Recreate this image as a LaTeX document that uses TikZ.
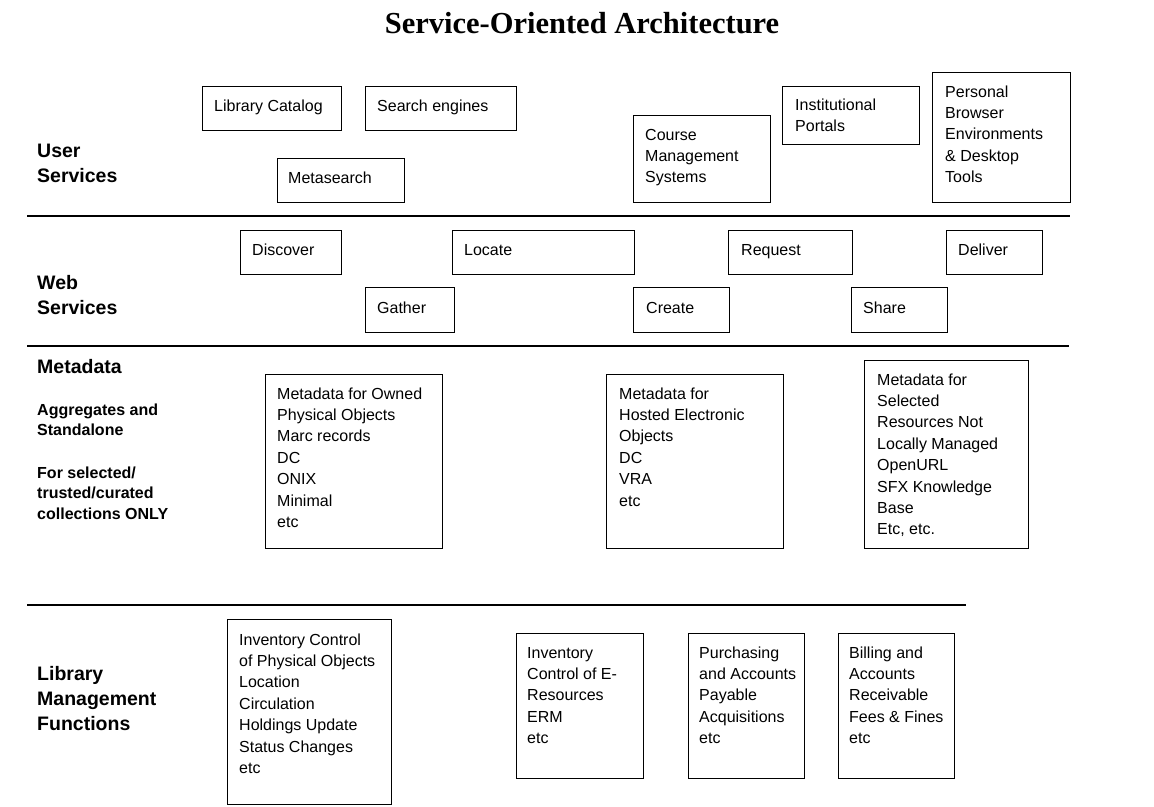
\documentclass[tikz,border=0pt]{standalone}
\usepackage{fontspec}
\setmainfont{Liberation Sans}
\newfontfamily\titlefont{Liberation Serif}
\usetikzlibrary{calc}
\newcommand\ml[1]{\begin{tabular}[t]{@{}l@{}}#1\end{tabular}}
\begin{document}
\begin{tikzpicture}[x=1pt,y=-1pt,
  box/.style={draw,line width=1.3pt,inner sep=0pt,anchor=north west},
  txt/.style={anchor=base west,inner sep=0pt,font=\fontsize{16}{21.4}\selectfont},
  head/.style={anchor=base west,inner sep=0pt,font=\bfseries\fontsize{19.5}{25}\selectfont},
  sub/.style={anchor=base west,inner sep=0pt,font=\bfseries\fontsize{16}{20.5}\selectfont},
  rule/.style={line width=2pt}]
\useasboundingbox (0,0) rectangle (1154,806);

% title
\node[anchor=base,inner sep=0pt,font=\titlefont\bfseries\fontsize{30.5}{36}\selectfont] (title) at (582,33) {Service-Oriented Architecture};

% separator rules
\coordinate (r1a) at (27,216); \coordinate (r1b) at (1070,216);
\coordinate (r2a) at (27,346); \coordinate (r2b) at (1069,346);
\coordinate (r3a) at (27,605); \coordinate (r3b) at (966,605);
\draw[rule] (r1a) -- (r1b);
\draw[rule] (r2a) -- (r2b);
\draw[rule] (r3a) -- (r3b);

% left labels
\node[head] (lus) at (37,157) {\ml{User\\Services}};
\node[head] (lws) at (37,289) {\ml{Web\\Services}};
\node[head] (lmd) at (37,373) {Metadata};
\node[sub] (lagg) at (37,415) {\ml{Aggregates and\\Standalone}};
\node[sub] (lsel) at (37,478) {\ml{For selected/\\trusted/curated\\collections ONLY}};
\node[head] (llm) at (37,680) {\ml{Library\\Management\\Functions}};

% user services
\node[box,minimum width=139pt,minimum height=44pt] (libcat) at (202,86) {};
\node[txt] (libcatT) at ($(libcat.north west)+(12,25)$) {Library Catalog};
\node[box,minimum width=151pt,minimum height=44pt] (search) at (365,86) {};
\node[txt] (searchT) at ($(search.north west)+(12,25)$) {Search engines};
\node[box,minimum width=127pt,minimum height=44pt] (meta) at (277,158) {};
\node[txt] (metaT) at ($(meta.north west)+(11,25)$) {Metasearch};
\node[box,minimum width=137pt,minimum height=87pt] (course) at (633,115) {};
\node[txt] (courseT) at ($(course.north west)+(12,25)$) {\ml{Course\\Management\\Systems}};
\node[box,minimum width=137pt,minimum height=58pt] (inst) at (782,86) {};
\node[txt] (instT) at ($(inst.north west)+(13,24)$) {\ml{Institutional\\Portals}};
\node[box,minimum width=138pt,minimum height=130pt] (pers) at (932,72) {};
\node[txt] (persT) at ($(pers.north west)+(13,25)$) {\ml{Personal\\Browser\\Environments\\\& Desktop\\Tools}};

% web services
\node[box,minimum width=101pt,minimum height=44pt] (disc) at (240,230) {};
\node[txt] (discT) at ($(disc.north west)+(12,25)$) {Discover};
\node[box,minimum width=182pt,minimum height=44pt] (loc) at (452,230) {};
\node[txt] (locT) at ($(loc.north west)+(12,25)$) {Locate};
\node[box,minimum width=124pt,minimum height=44pt] (req) at (728,230) {};
\node[txt] (reqT) at ($(req.north west)+(13,25)$) {Request};
\node[box,minimum width=96pt,minimum height=44pt] (deliv) at (946,230) {};
\node[txt] (delivT) at ($(deliv.north west)+(12,25)$) {Deliver};
\node[box,minimum width=89pt,minimum height=45pt] (gath) at (365,287) {};
\node[txt] (gathT) at ($(gath.north west)+(12,26)$) {Gather};
\node[box,minimum width=96pt,minimum height=45pt] (creat) at (633,287) {};
\node[txt] (creatT) at ($(creat.north west)+(13,26)$) {Create};
\node[box,minimum width=96pt,minimum height=45pt] (share) at (851,287) {};
\node[txt] (shareT) at ($(share.north west)+(12,26)$) {Share};

% metadata
\node[box,minimum width=177pt,minimum height=174pt] (md1) at (265,374) {};
\node[txt] (md1T) at ($(md1.north west)+(12,25)$) {\ml{Metadata for Owned\\Physical Objects\\Marc records\\DC\\ONIX\\Minimal\\etc}};
\node[box,minimum width=177pt,minimum height=174pt] (md2) at (606,374) {};
\node[txt] (md2T) at ($(md2.north west)+(13,25)$) {\ml{Metadata for\\Hosted Electronic\\Objects\\DC\\VRA\\etc}};
\node[box,minimum width=164pt,minimum height=188pt] (md3) at (864,360) {};
\node[txt] (md3T) at ($(md3.north west)+(13,25)$) {\ml{Metadata for\\Selected\\Resources Not\\Locally Managed\\OpenURL\\SFX Knowledge\\Base\\Etc, etc.}};

% library management
\node[box,minimum width=164pt,minimum height=185pt] (inv) at (227,619) {};
\node[txt] (invT) at ($(inv.north west)+(12,26)$) {\ml{Inventory Control\\of Physical Objects\\Location\\Circulation\\Holdings Update\\Status Changes\\etc}};
\node[box,minimum width=127pt,minimum height=145pt] (eres) at (516,633) {};
\node[txt] (eresT) at ($(eres.north west)+(11,25)$) {\ml{Inventory\\Control of E-\\Resources\\ERM\\etc}};
\node[box,minimum width=116pt,minimum height=145pt] (purch) at (688,633) {};
\node[txt] (purchT) at ($(purch.north west)+(11,25)$) {\ml{Purchasing\\and Accounts\\Payable\\Acquisitions\\etc}};
\node[box,minimum width=116pt,minimum height=145pt] (bill) at (838,633) {};
\node[txt] (billT) at ($(bill.north west)+(11,25)$) {\ml{Billing and\\Accounts\\Receivable\\Fees \& Fines\\etc}};
\end{tikzpicture}
\end{document}
